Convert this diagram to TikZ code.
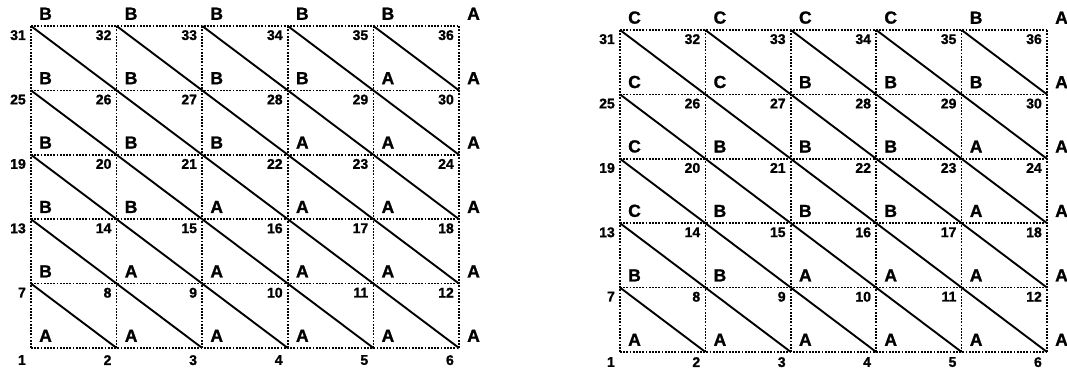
\documentclass[tikz,border=0pt]{standalone}
\usepackage{fontspec}
\setmainfont{Liberation Sans}
\newfontfamily\heavyfont[FakeBold=1.2]{Liberation Sans Bold}
\begin{document}
\begin{tikzpicture}[x=1pt,y=1pt,
  gridline/.style={line width=1.6pt, dash pattern=on 1.8pt off 1.4pt},
  diag/.style={line width=1.9pt},
  num/.style={font=\heavyfont\fontsize{14}{14}\selectfont, anchor=north east, inner sep=0pt},
  lett/.style={font=\heavyfont\fontsize{17.5}{17.5}\selectfont, anchor=south west, inner sep=0pt}]
\useasboundingbox (0,0) rectangle (1067,369);
% vertices
\foreach \g/\ox/\oy/\dx in {L/31/21/85.6, R/620/17/85.4} {
  \foreach \j in {0,...,5} {
    \foreach \i in {0,...,5} {
      \pgfmathtruncatemacro\n{6*\j+\i+1}
      \coordinate (\g\n) at ({\ox+\i*\dx}, {\oy+\j*64.4});
    }
  }
}
% grid lines and diagonals
\foreach \g in {L,R} {
  \foreach \j in {0,...,5} {
    \pgfmathtruncatemacro\a{6*\j+1}
    \pgfmathtruncatemacro\b{6*\j+6}
    \draw[gridline] (\g\a) -- (\g\b);
  }
  \foreach \i in {1,...,6} {
    \pgfmathtruncatemacro\b{30+\i}
    \draw[gridline] (\g\i) -- (\g\b);
  }
  \foreach \j in {0,...,4} {
    \foreach \i in {0,...,4} {
      \pgfmathtruncatemacro\a{6*(\j+1)+\i+1}
      \pgfmathtruncatemacro\b{6*\j+\i+2}
      \draw[diag] (\g\a) -- (\g\b);
    }
  }
}
% numbers
\foreach \g/\s in {L/-7, R/-5} {
  \foreach \n in {1,...,6} {
    \node[num] (\g n\n) at ([xshift=-5pt,yshift=\s pt]\g\n) {\n};
  }
  \foreach \n in {7,...,36} {
    \node[num] (\g n\n) at ([xshift=-5pt,yshift=-4pt]\g\n) {\n};
  }
}
% letters
\foreach \g/\row/\list in {
  L/0/{A,A,A,A,A,A}, L/1/{B,A,A,A,A,A}, L/2/{B,B,A,A,A,A},
  L/3/{B,B,B,A,A,A}, L/4/{B,B,B,B,A,A}, L/5/{B,B,B,B,B,A},
  R/0/{A,A,A,A,A,A}, R/1/{B,B,A,A,A,A}, R/2/{C,B,B,B,A,A},
  R/3/{C,B,B,B,A,A}, R/4/{C,C,B,B,B,A}, R/5/{C,C,C,C,B,A}} {
  \foreach \l [count=\c from 1] in \list {
    \pgfmathtruncatemacro\n{6*\row+\c}
    \node[lett] (\g l\n) at ([xshift=8pt,yshift=6pt]\g\n) {\l};
  }
}
\end{tikzpicture}
\end{document}
